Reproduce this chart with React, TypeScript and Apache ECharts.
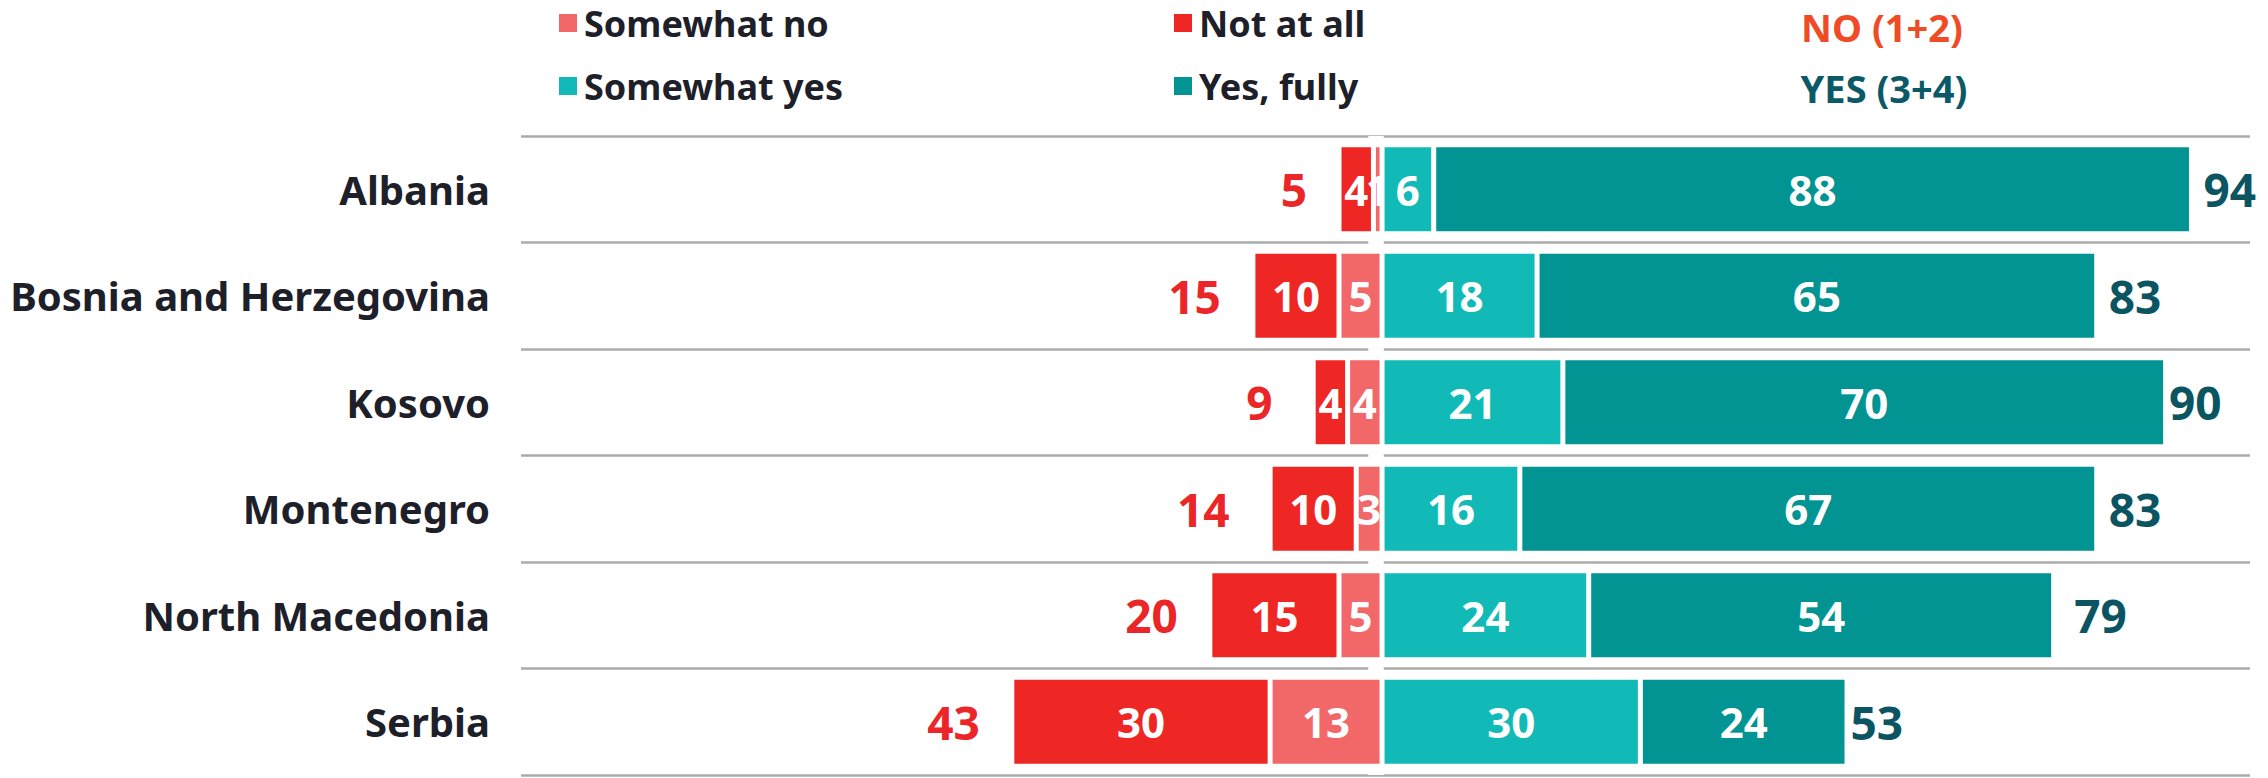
import React, { useEffect, useRef } from "react";
import * as echarts from "echarts";

const categories = ["Albania", "Bosnia and Herzegovina", "Kosovo", "Montenegro", "North Macedonia", "Serbia"];
const notAtAll = [4, 10, 4, 10, 15, 30];
const somewhatNo = [1, 5, 4, 3, 5, 13];
const somewhatYes = [6, 18, 21, 16, 24, 30];
const yesFully = [88, 65, 70, 67, 54, 24];
const noTotal = [5, 15, 9, 14, 20, 43];
const yesTotal = [94, 83, 90, 83, 79, 53];

const FONT = "'Noto Sans', 'Open Sans', sans-serif";
const C_NOTATALL = "#ee2624";
const C_SOMEWHATNO = "#f26767";
const C_SOMEWHATYES = "#12bab7";
const C_YESFULLY = "#029393";
const C_TEXT = "#1e2029";
const C_NO_HEAD = "#f04b27";
const C_YES_HEAD = "#0b5866";
const C_NO_TOTAL = "#ea2628";
const C_YES_TOTAL = "#0b5563";

const BAR_W = 89;

export default function App() {
  const ref = useRef<HTMLDivElement>(null);
  useEffect(() => {
    if (!ref.current) return;
    const chart = echarts.init(ref.current, undefined, { renderer: "svg" });
    const inLabel = {
      show: true,
      position: "inside",
      color: "#ffffff",
      fontSize: 42,
      fontWeight: "bold",
      fontFamily: FONT,
      formatter: (p: any) => String(Math.abs(p.value)),
    };
    const stackBar = (name: string, data: number[], color: string) => ({
      name,
      type: "bar",
      stack: "a",
      data,
      barWidth: BAR_W,
      barGap: "-100%",
      z: 3,
      itemStyle: { color, borderColor: "#ffffff", borderWidth: 2.5 },
      label: inLabel,
    });
    const legendBase = {
      orient: "vertical",
      top: 3,
      padding: 0,
      itemWidth: 20,
      itemHeight: 20,
      itemGap: 23,
      icon: "rect",
      selectedMode: false,
      textStyle: {
        fontSize: 36,
        fontWeight: "bold",
        color: C_TEXT,
        fontFamily: FONT,
        lineHeight: 40,
        padding: [0, 0, 0, 1],
      },
    };
    chart.setOption({
      animation: false,
      backgroundColor: "#ffffff",
      textStyle: { fontFamily: FONT },
      grid: { left: 521, right: 18, top: 136, bottom: 3 },
      legend: [
        { ...legendBase, left: 557, data: ["Somewhat no", "Somewhat yes"] },
        { ...legendBase, left: 1172, data: ["Not at all", "Yes, fully"] },
      ],
      graphic: [
        {
          type: "text",
          x: 1882,
          y: 27,
          style: {
            text: "NO (1+2)",
            align: "center",
            verticalAlign: "middle",
            lineHeight: 40,
            fill: C_NO_HEAD,
            font: `bold 38px ${FONT}`,
          },
        },
        {
          type: "text",
          x: 1884,
          y: 88,
          style: {
            text: "YES (3+4)",
            align: "center",
            verticalAlign: "middle",
            lineHeight: 40,
            fill: C_YES_HEAD,
            font: `bold 38px ${FONT}`,
          },
        },
      ],
      xAxis: { type: "value", min: -100, max: 100.8, show: false },
      yAxis: {
        type: "category",
        data: categories,
        inverse: true,
        axisLine: { show: false },
        axisTick: { show: false },
        splitLine: { show: true, lineStyle: { color: "#ababab", width: 2.5 } },
        axisLabel: {
          margin: 31,
          fontSize: 40,
          fontWeight: "bold",
          color: C_TEXT,
          fontFamily: FONT,
        },
      },
      series: [
        {
          name: "gap",
          type: "line",
          data: categories.map(() => null),
          symbol: "none",
          silent: true,
          z: 2,
          markArea: {
            silent: true,
            itemStyle: { color: "#ffffff" },
            label: { show: false },
            data: [[{ xAxis: -1.6 }, { xAxis: 0.2 }]],
          },
        },
        {
          name: "NO total",
          type: "bar",
          data: noTotal.map((v) => -v),
          barWidth: BAR_W,
          barGap: "-100%",
          z: 1,
          silent: true,
          itemStyle: { color: "rgba(0,0,0,0)" },
          label: {
            show: true,
            position: "left",
            distance: 32,
            color: C_NO_TOTAL,
            fontSize: 46,
            fontWeight: "bold",
            fontFamily: FONT,
            formatter: (p: any) => String(Math.abs(p.value)),
          },
        },
        {
          name: "YES total",
          type: "bar",
          data: yesTotal,
          barWidth: BAR_W,
          barGap: "-100%",
          z: 1,
          silent: true,
          itemStyle: { color: "rgba(0,0,0,0)" },
          label: {
            show: true,
            position: "right",
            distance: 12,
            color: C_YES_TOTAL,
            fontSize: 46,
            fontWeight: "bold",
            fontFamily: FONT,
          },
        },
        stackBar("Somewhat no", somewhatNo.map((v) => -v), C_SOMEWHATNO),
        stackBar("Not at all", notAtAll.map((v) => -v), C_NOTATALL),
        stackBar("Somewhat yes", somewhatYes, C_SOMEWHATYES),
        stackBar("Yes, fully", yesFully, C_YESFULLY),
      ],
    });
    return () => chart.dispose();
  }, []);
  return (
    <div
      ref={ref}
      style={{ position: "fixed", left: 0, top: 0, width: 2268, height: 778 }}
    />
  );
}
